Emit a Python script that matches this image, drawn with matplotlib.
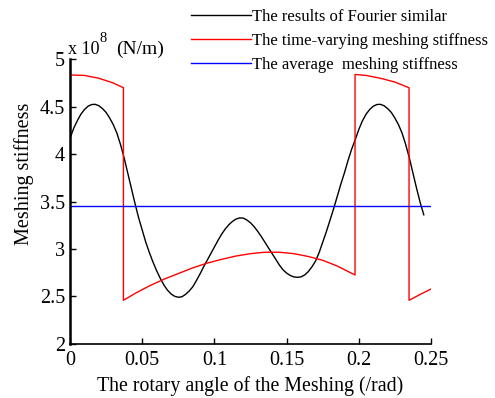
import matplotlib
matplotlib.use('Agg')
import matplotlib.pyplot as plt

plt.rcParams['font.family'] = ['Liberation Serif', 'DejaVu Serif']

# Fourier approximation of the stiffness (x 1e8 N/m)
x_fourier = [0.000, 0.0025, 0.005, 0.0075, 0.010, 0.0125, 0.015, 0.0175, 0.020, 0.0225,
             0.025, 0.0275, 0.030, 0.0325, 0.035, 0.0375, 0.040, 0.0425, 0.045, 0.0475,
             0.050, 0.0525, 0.055, 0.0575, 0.060, 0.0625, 0.065, 0.0675, 0.070, 0.0725,
             0.075, 0.0775, 0.080, 0.0825, 0.085, 0.0875, 0.090, 0.0925, 0.095, 0.0975,
             0.100, 0.1025, 0.105, 0.1075, 0.110, 0.1125, 0.115, 0.1175, 0.120, 0.1225,
             0.125, 0.1275, 0.130, 0.1325, 0.135, 0.1375, 0.140, 0.1425, 0.145, 0.1475,
             0.150, 0.1525, 0.155, 0.1575, 0.160, 0.1625, 0.165, 0.1675, 0.170, 0.1725,
             0.175, 0.1775, 0.180, 0.1825, 0.185, 0.1875, 0.190, 0.1925, 0.195, 0.1975,
             0.200, 0.2025, 0.205, 0.2075, 0.210, 0.2125, 0.215, 0.2175, 0.220, 0.2225,
             0.225, 0.2275, 0.230, 0.2325, 0.235, 0.2375, 0.240, 0.2425, 0.245]
k_fourier = [4.165, 4.27, 4.35, 4.42, 4.47, 4.505, 4.523, 4.525, 4.51, 4.48,
             4.44, 4.38, 4.31, 4.22, 4.10, 3.96, 3.80, 3.64, 3.48, 3.33,
             3.20, 3.07, 2.96, 2.86, 2.77, 2.69, 2.62, 2.565, 2.525, 2.50,
             2.49, 2.495, 2.52, 2.555, 2.60, 2.665, 2.735, 2.81, 2.88, 2.95,
             3.02, 3.09, 3.155, 3.21, 3.255, 3.29, 3.315, 3.327, 3.325, 3.305,
             3.275, 3.235, 3.185, 3.13, 3.07, 3.01, 2.95, 2.89, 2.83, 2.78,
             2.745, 2.72, 2.705, 2.70, 2.705, 2.725, 2.76, 2.81, 2.87, 2.96,
             3.07, 3.18, 3.30, 3.42, 3.55, 3.68, 3.80, 3.93, 4.05, 4.15,
             4.26, 4.35, 4.42, 4.47, 4.505, 4.523, 4.525, 4.51, 4.48, 4.44,
             4.38, 4.31, 4.22, 4.10, 3.96, 3.80, 3.64, 3.49, 3.36]

# time-varying meshing stiffness (double / single tooth zones)
x_mesh = [0.000, 0.010, 0.020, 0.030, 0.037,
          0.037, 0.045, 0.055, 0.065, 0.075, 0.085, 0.095, 0.105, 0.115, 0.125,
          0.135, 0.145, 0.155, 0.165, 0.175, 0.185, 0.1974,
          0.1974, 0.205, 0.215, 0.225, 0.2348,
          0.2348, 0.2425, 0.250]
k_mesh = [4.835, 4.83, 4.80, 4.75, 4.70,
          2.458, 2.53, 2.61, 2.68, 2.74, 2.80, 2.85, 2.89, 2.925, 2.95,
          2.965, 2.965, 2.95, 2.92, 2.88, 2.82, 2.725,
          4.84, 4.83, 4.80, 4.76, 4.70,
          2.458, 2.52, 2.577]

x_avg = [0.0, 0.25]
k_avg = [3.455, 3.455]

labels = ['The results of Fourier similar',
          'The time-varying meshing stiffness',
          'The average  meshing stiffness']

fig = plt.figure(figsize=(4.95, 3.98), dpi=100)
ax = fig.add_axes([0.1414, 0.1364, 0.7293, 0.7146])

l1, = ax.plot(x_fourier, k_fourier, color='k', lw=1.0)
l2, = ax.plot(x_mesh, k_mesh, color='r', lw=1.0)
l3, = ax.plot(x_avg, k_avg, color='b', lw=1.0)

ax.set_xlim(0, 0.25)
ax.set_ylim(2, 5)
ax.set_xticks([0, 0.05, 0.1, 0.15, 0.2, 0.25])
ax.set_xticklabels(['0', '0.05', '0.1', '0.15', '0.2', '0.25'])
ax.set_yticks([2, 2.5, 3, 3.5, 4, 4.5, 5])
ax.set_yticklabels(['2', '2.5', '3', '3.5', '4', '4.5', '5'])
ax.tick_params(direction='in', length=4, width=1, labelsize=14.5)
ax.tick_params(axis='x', pad=5)
ax.tick_params(axis='y', pad=3.5)

for s in ['top', 'right']:
    ax.spines[s].set_visible(False)
ax.spines['left'].set_linewidth(1.8)
ax.spines['bottom'].set_linewidth(1.2)

ax.set_xlabel('The rotary angle of the Meshing (/rad)', fontsize=14.3)
ax.set_ylabel('Meshing stiffness', fontsize=14.5)
ax.xaxis.set_label_coords(0.5, -0.115)
ax.yaxis.set_label_coords(-0.10, 0.596)

fig.text(68 / 495, 1 - 53.5 / 398, 'x 10', fontsize=13, ha='left', va='baseline')
fig.text(100 / 495, 1 - 41.5 / 398, '8', fontsize=10.5, ha='left', va='baseline')
fig.text(116.5 / 495, 1 - 53.5 / 398, '(N/m)', fontsize=14, ha='left', va='baseline')

fig.legend([l1, l2, l3], labels, loc='upper left',
           bbox_to_anchor=(188 / 495, 1 - 6 / 398), frameon=False,
           fontsize=12, handlelength=3.6, handletextpad=0.05,
           labelspacing=0.47, borderpad=0.2, borderaxespad=0)

fig.savefig('out.png', dpi=100)
